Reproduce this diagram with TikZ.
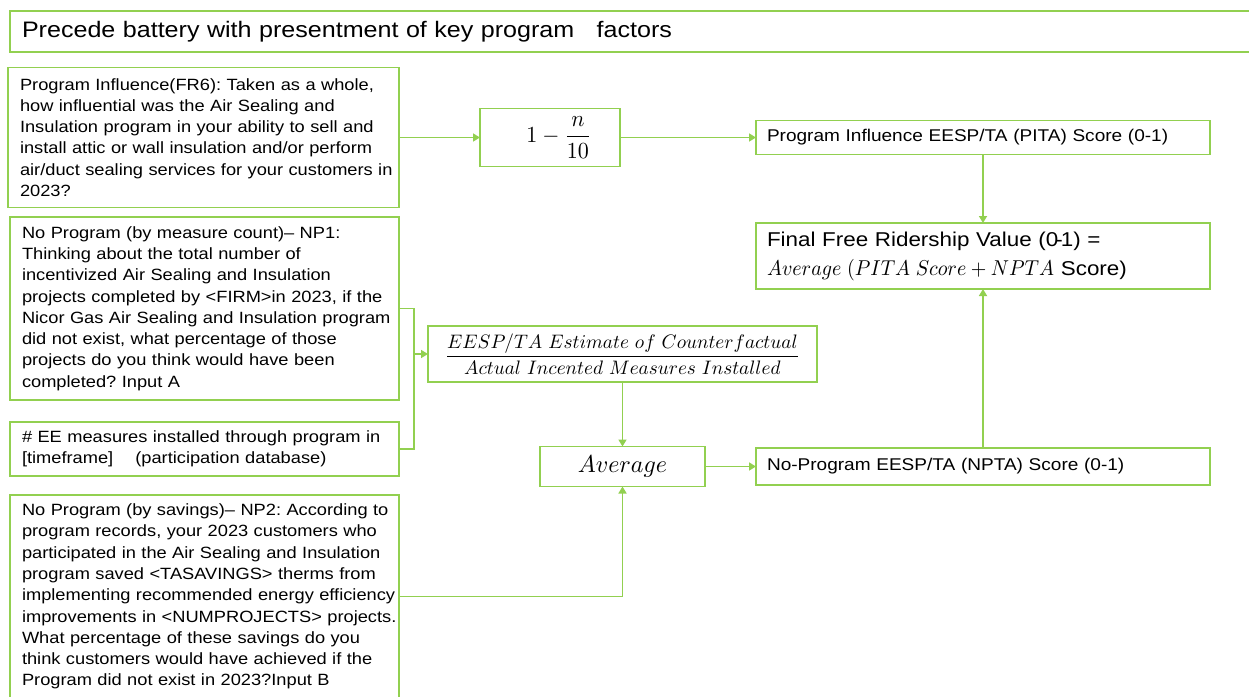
\documentclass[tikz,border=0pt]{standalone}
\usepackage{amsmath}
\usepackage[no-math]{fontspec}
\setmainfont{Liberation Sans}[FakeStretch=1.12]
\usetikzlibrary{arrows.meta}
\definecolor{gr}{HTML}{92D050}
\frenchspacing
% math set at 10pt and scaled: #1 = horizontal factor, #2 = vertical factor
\newcommand\mth[3]{\scalebox{#1}[#2]{\fontsize{10}{12}\selectfont$#3$}}
\tikzset{
  bx/.style={draw=gr, line width=1.6pt, rectangle, inner ysep=0pt, outer sep=0pt},
  qtext/.style={bx, align=left, inner xsep=12pt, font=\fontsize{16.3}{21.3}\selectfont},
  rtext/.style={bx, align=left, inner xsep=11pt, font=\fontsize{17}{21}\selectfont},
  mbox/.style={bx, align=center, inner xsep=0pt},
  conn/.style={draw=gr, line width=1.6pt},
  arr/.style={conn, -{Triangle[width=8pt,length=7pt]}},
}
\begin{document}
\begin{tikzpicture}[x=1pt,y=-1pt]
\useasboundingbox (0,0) rectangle (1249,696);
\clip (0,0) rectangle (1249,696);
\fill[white] (0,0) rectangle (1249,696);

% title
\node[bx, align=left, inner xsep=12pt, minimum width=1250pt, minimum height=41pt, text width=1226pt,
      font=\fontsize{22.4}{26}\selectfont] (title) at (635,31.5)
  {\mbox{Precede battery with presentment of key program \ \ factors}};

% left question boxes
\node[qtext, minimum width=391pt, minimum height=140pt, text width=367pt] (b1) at (203.5,137.5)
  {\mbox{Program Influence(FR6): Taken as a whole,}\\
   \mbox{how influential was the Air Sealing and}\\
   \mbox{Insulation program in your ability to sell and}\\
   \mbox{install attic or wall insulation and/or perform}\\
   \mbox{air/duct sealing services for your customers in}\\
   \mbox{2023?}};

\node[qtext, minimum width=389pt, minimum height=183pt, text width=365pt] (np1) at (204.5,308.5)
  {\mbox{No Program (by measure count)– NP1:}\\
   \mbox{Thinking about the total number of}\\
   \mbox{incentivized Air Sealing and Insulation}\\
   \mbox{projects completed by <FIRM>in 2023, if the}\\
   \mbox{Nicor Gas Air Sealing and Insulation program}\\
   \mbox{did not exist, what percentage of those}\\
   \mbox{projects do you think would have been}\\
   \mbox{completed? Input A}};

\node[qtext, minimum width=389pt, minimum height=54pt, text width=365pt] (ee) at (204.5,449)
  {\mbox{\# EE measures installed through program in}\\
   \mbox{[timeframe]\hspace{22pt}(participation database)}};

\node[qtext, minimum width=389pt, minimum height=203pt, text width=365pt] (np2) at (204.5,596.5)
  {\mbox{No Program (by savings)– NP2: According to}\\
   \mbox{program records, your 2023 customers who}\\
   \mbox{participated in the Air Sealing and Insulation}\\
   \mbox{program saved <TASAVINGS> therms from}\\
   \mbox{implementing recommended energy efficiency}\\
   \mbox{improvements in <NUMPROJECTS> projects.}\\
   \mbox{What percentage of these savings do you}\\
   \mbox{think customers would have achieved if the}\\
   \mbox{Program did not exist in 2023?Input B}};

% formula boxes
\node[mbox, minimum width=140pt, minimum height=58pt] (f1) at (550,137.5)
  {\hspace*{18pt}\mth{2.2}{2.3}{1-\dfrac{n}{10}}};

\node[mbox, minimum width=389pt, minimum height=56pt] (frac) at (622.5,354)
  {\mth{1.92}{1.95}{\dfrac{EESP/TA\ Estimate\ of\ Counterfactual}{Actual\ Incented\ Measures\ Installed}}};

\node[mbox, minimum width=165pt, minimum height=40pt] (avg) at (622.5,466.5)
  {\mth{2.4}{2.45}{Average}};

% right boxes
\node[rtext, minimum width=454pt, minimum height=34pt, text width=432pt] (pita) at (983,137.5)
  {\mbox{Program Influence EESP/TA (PITA) Score (0-1)}};

\node[rtext, minimum width=454pt, minimum height=66pt, text width=432pt, font=\fontsize{20}{29}\selectfont] (final) at (983,256)
  {\mbox{Final Free Ridership Value (0\kern-3pt-\kern-2pt1) =}\\
   \mbox{\mth{2.0}{2.15}{Average\;(PITA\;Score+NPTA}\ Score)}};

\node[rtext, minimum width=454pt, minimum height=37pt, text width=432pt] (npta) at (983,466.5)
  {\mbox{No-Program EESP/TA (NPTA) Score (0-1)}};

% connectors
\draw[arr] (b1.east) -- (f1.west);
\draw[arr] (f1.east) -- (pita.west);
\draw[arr] (pita.south) -- (final.north);
\draw[arr] (npta.north) -- (final.south);
\coordinate (brk) at (414,354);
\draw[conn] (np1.east) -| (brk) |- (ee.east);
\draw[arr] (brk) -- (frac.west);
\draw[arr] (frac.south) -- (avg.north);
\draw[arr] (np2.east) -| (avg.south);
\draw[arr] (avg.east) -- (npta.west);
\end{tikzpicture}
\end{document}
